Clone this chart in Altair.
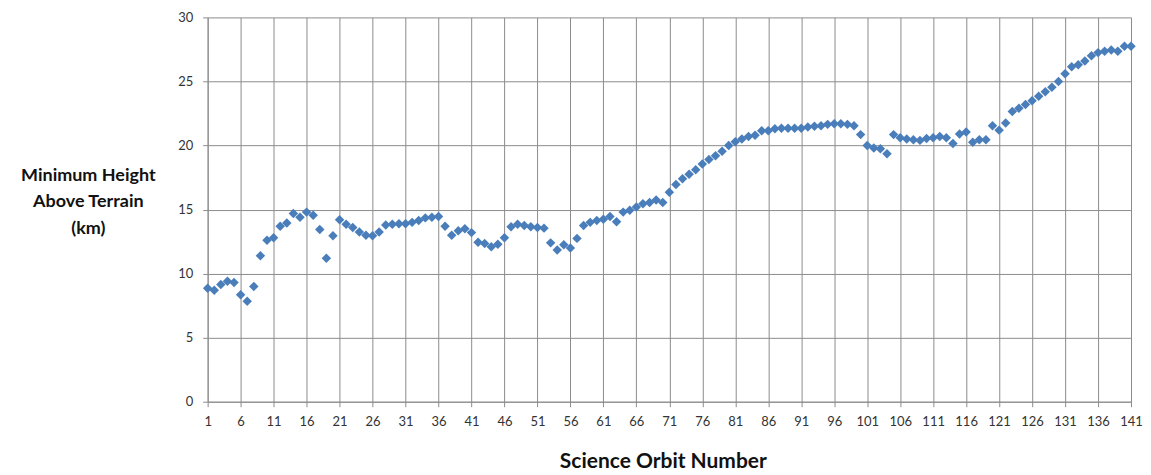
import altair as alt
import pandas as pd

orbits = list(range(1, 142))
heights = [
    8.85, 8.7, 9.15, 9.4, 9.3, 8.35, 7.85, 9.0, 11.4, 12.6,
    12.8, 13.7, 13.95, 14.7, 14.4, 14.8, 14.55, 13.45, 11.2, 12.95,
    14.2, 13.85, 13.6, 13.25, 13.0, 12.95, 13.25, 13.8, 13.85, 13.9,
    13.9, 14.0, 14.15, 14.35, 14.4, 14.45, 13.7, 13.0, 13.35, 13.5,
    13.2, 12.45, 12.35, 12.1, 12.3, 12.8, 13.65, 13.85, 13.75, 13.65,
    13.6, 13.55, 12.4, 11.85, 12.25, 12.0, 12.75, 13.75, 14.0, 14.15,
    14.25, 14.45, 14.05, 14.8, 14.95, 15.2, 15.45, 15.55, 15.75, 15.55,
    16.35, 16.95, 17.4, 17.75, 18.1, 18.55, 18.9, 19.2, 19.55, 20.0,
    20.3, 20.5, 20.7, 20.8, 21.15, 21.15, 21.3, 21.35, 21.35, 21.35,
    21.35, 21.45, 21.5, 21.55, 21.65, 21.7, 21.7, 21.65, 21.55, 20.85,
    20.0, 19.8, 19.75, 19.35, 20.85, 20.6, 20.5, 20.45, 20.4, 20.55,
    20.6, 20.7, 20.6, 20.15, 20.9, 21.05, 20.25, 20.45, 20.45, 21.55,
    21.2, 21.75, 22.65, 22.9, 23.2, 23.5, 23.85, 24.2, 24.55, 25.0,
    25.6, 26.15, 26.3, 26.6, 27.0, 27.25, 27.35, 27.45, 27.35, 27.75,
    27.75,
]
x_ticks = list(range(1, 142, 5))
y_ticks = [0, 5, 10, 15, 20, 25, 30]
x_title = "Science Orbit Number"
y_title = ["Minimum Height", "Above Terrain", "(km)"]

df = pd.DataFrame({"orbit": orbits, "height": heights})

grid = "#8c8c8c"

chart = alt.Chart(df).mark_point(
    shape="diamond", filled=True, color="#4A7EBB", opacity=1, size=90
).encode(
    x=alt.X(
        "orbit:Q",
        scale=alt.Scale(domain=[1, 141], nice=False, zero=False),
        axis=alt.Axis(
            values=x_ticks, title=x_title, labelPadding=9,
            titleX=456, titleY=66, titleBaseline="alphabetic",
            titleAlign="center", titleFontSize=21, titleAnchor="start",
        ),
    ),
    y=alt.Y(
        "height:Q",
        scale=alt.Scale(domain=[0, 30], nice=False),
        axis=alt.Axis(
            values=y_ticks, title=y_title, labelPadding=10,
            titleAngle=0, titleX=-120, titleY=163, titleAlign="center",
            titleBaseline="alphabetic", titleLineHeight=26.5,
            titleFontSize=18, titleAnchor="start",
        ),
    ),
).properties(
    width=925, height=385,
    autosize=alt.AutoSizeParams(type="none"),
    padding={"left": 200, "top": 9, "right": 12, "bottom": 70},
).configure_view(
    strokeOpacity=0
).configure_axis(
    grid=True, gridColor=grid, gridWidth=1, gridOpacity=1,
    domainColor=grid, domainWidth=1, tickColor=grid, tickSize=5, tickWidth=1,
    labelFont="Lato", labelFontSize=13, labelColor="#333333",
    titleFont="Lato", titleFontWeight="bold", titleColor="#111111",
    labelFlush=False, labelOverlap=False,
)

chart.save("out.html", embed_options={"renderer": "svg", "actions": False})
